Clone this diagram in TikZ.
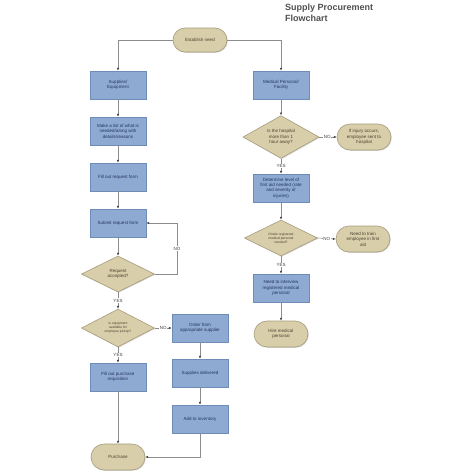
\documentclass[tikz,border=0pt]{standalone}
\usepackage{fontspec}
\setmainfont{Liberation Sans}
\usetikzlibrary{shapes.geometric,shapes.misc,arrows.meta,shadows}
\definecolor{boxfill}{HTML}{8FAAD2}
\definecolor{boxdraw}{HTML}{6E8CB8}
\definecolor{boxtext}{HTML}{22345A}
\definecolor{tanfill}{HTML}{D8CEAA}
\definecolor{tandraw}{HTML}{A59C7C}
\definecolor{tantext}{HTML}{4A4230}
\definecolor{linecol}{HTML}{8C8C8C}
\definecolor{tipcol}{HTML}{404040}
\definecolor{titlecol}{HTML}{505050}
\tikzset{
  basefont/.style={font=\fontsize{4.5}{5.4}\selectfont},
  procbox/.style={basefont, rectangle, draw=boxdraw, fill=boxfill, text=boxtext, line width=0.6pt,
    minimum width=56pt, minimum height=28pt, inner sep=1pt, align=center,
    drop shadow={shadow xshift=0.8pt, shadow yshift=-0.8pt, fill=black!25, opacity=0.6}},
  termbox/.style={basefont, rounded rectangle, draw=tandraw, fill=tanfill, text=tantext, line width=0.6pt,
    minimum width=56pt, minimum height=26pt, inner sep=1pt, align=center,
    drop shadow={shadow xshift=0.8pt, shadow yshift=-0.8pt, fill=black!25, opacity=0.6}},
  decbox/.style={basefont, diamond, draw=tandraw, fill=tanfill, text=tantext, line width=0.6pt,
    minimum width=73pt, minimum height=36pt, inner sep=0pt, align=center,
    drop shadow={shadow xshift=0.8pt, shadow yshift=-0.8pt, fill=black!25, opacity=0.6}},
  smalldec/.style={font=\fontsize{3.3}{4.1}\selectfont},
  conn/.style={draw=linecol, line width=0.6pt, -{Latex[length=2.8pt,width=2.4pt,color=tipcol]}},
  lab/.style={basefont, fill=white, inner sep=0.6pt, text=black!75},
}
\begin{document}
\begin{tikzpicture}[x=1pt,y=-1pt]
\useasboundingbox[fill=white] (0,0) rectangle (474,474);
% title
\node[anchor=north west, align=left, font=\fontsize{9}{10.5}\selectfont\bfseries, text=titlecol, inner sep=0pt] (title) at (285,4) {Supply Procurement\\Flowchart};
% nodes
\node[termbox, minimum height=24pt] (est) at (200,40) {Establish need};
\node[procbox] (sup) at (118,85) {Supplies/\\Equipment};
\node[procbox] (med) at (281,85) {Medical Personal/\\Facility};
\node[procbox] (list) at (118,131) {Make a list of what is\\needed/along with\\details/reasons};
\node[procbox] (fill) at (118,177) {Fill out request form};
\node[procbox] (submit) at (118,223) {Submit request form};
\node[decbox] (req) at (118,274) {Request\\accepted?};
\node[decbox, smalldec] (equip) at (118,328) {Is equipment\\available for\\employee pickup?};
\node[procbox] (order) at (200,328) {Order from\\appropriate supplier};
\node[procbox] (fillp) at (118,377) {Fill out purchase\\requisition};
\node[procbox] (deliv) at (200,373) {Supplies delivered};
\node[procbox] (inv) at (200,419) {Add to inventory};
\node[termbox] (purch) at (118,457) {Purchase};
\node[decbox, minimum width=76pt, minimum height=37pt] (hosp) at (281,137) {Is the hospital\\more than 1\\hour away?};
\node[termbox] (injury) at (364,137) {If injury occurs,\\employee sent to\\hospital};
\node[procbox] (det) at (281,188) {Determine level of\\first aid needed (rate\\and severity of\\injuries)};
\node[decbox, smalldec] (onsite) at (281,238) {Onsite registered\\medical personal\\needed?};
\node[termbox] (train) at (363,239) {Need to train\\employee in first\\aid};
\node[procbox] (interv) at (281,288) {Need to interview\\registered medical\\personal};
\node[termbox] (hire) at (281,334) {Hire medical\\personal};
% connectors
\draw[conn] (est.west) -| (sup.north);
\draw[conn] (est.east) -| (med.north);
\draw[conn] (sup) -- (list);
\draw[conn] (list) -- (fill);
\draw[conn] (fill) -- (submit);
\draw[conn] (submit) -- (req);
\coordinate (loopc) at (177,274);
\draw[conn] (req.east) -- (loopc) |- (submit.east) node[lab, pos=0.25] {NO};
\draw[conn] (req.south) -- (equip.north) node[lab, pos=0.5] {YES};
\draw[conn] (equip.east) -- (order.west) node[lab, pos=0.5] {NO};
\draw[conn] (equip.south) -- (fillp.north) node[lab, pos=0.5] {YES};
\draw[conn] (order) -- (deliv);
\draw[conn] (deliv) -- (inv);
\draw[conn] (inv.south) |- (purch.east);
\draw[conn] (fillp) -- (purch);
\draw[conn] (med) -- (hosp);
\draw[conn] (hosp.east) -- (injury.west) node[lab, pos=0.45] {NO};
\draw[conn] (hosp.south) -- (det.north) node[lab, pos=0.5] {YES};
\draw[conn] (det) -- (onsite);
\draw[conn] (onsite.east) -- (train.west) node[lab, pos=0.5] {NO};
\draw[conn] (onsite.south) -- (interv.north) node[lab, pos=0.5] {YES};
\draw[conn] (interv) -- (hire);
\end{tikzpicture}
\end{document}
